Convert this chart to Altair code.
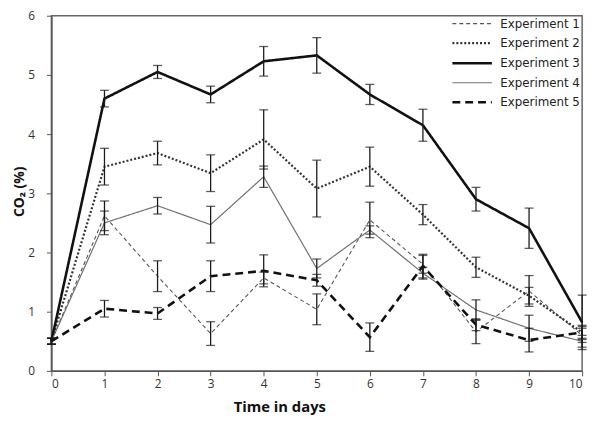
import altair as alt
import pandas as pd

days = list(range(11))
series_names = ["Experiment 1", "Experiment 2", "Experiment 3", "Experiment 4", "Experiment 5"]

exp1 = [0.5, 2.62, 1.6, 0.63, 1.57, 1.04, 2.55, 1.8, 0.66, 1.35, 0.6]
exp1_err = [0.05, 0.25, 0.26, 0.2, 0.1, 0.26, 0.3, 0.15, 0.2, 0.26, 0.12]
exp2 = [0.5, 3.45, 3.68, 3.34, 3.91, 3.08, 3.45, 2.64, 1.75, 1.27, 0.65]
exp2_err = [0.05, 0.31, 0.2, 0.31, 0.5, 0.48, 0.33, 0.17, 0.17, 0.14, 0.1]
exp3 = [0.5, 4.6, 5.05, 4.67, 5.23, 5.33, 4.67, 4.15, 2.9, 2.41, 0.82]
exp3_err = [0.05, 0.14, 0.11, 0.14, 0.25, 0.3, 0.17, 0.27, 0.2, 0.34, 0.46]
exp4 = [0.5, 2.5, 2.79, 2.47, 3.28, 1.73, 2.38, 1.65, 1.03, 0.72, 0.5]
exp4_err = [0.05, 0.2, 0.14, 0.31, 0.18, 0.16, 0.07, 0.1, 0.17, 0.22, 0.1]
exp5 = [0.5, 1.05, 0.97, 1.6, 1.69, 1.53, 0.57, 1.77, 0.78, 0.52, 0.65]
exp5_err = [0.05, 0.14, 0.1, 0.26, 0.27, 0.1, 0.24, 0.2, 0.1, 0.2, 0.12]

values = [exp1, exp2, exp3, exp4, exp5]
errors = [exp1_err, exp2_err, exp3_err, exp4_err, exp5_err]

rows = []
for name, vals, errs in zip(series_names, values, errors):
    for d, v, e in zip(days, vals, errs):
        rows.append({"day": d, "series": name, "co2": v, "lo": v - e, "hi": v + e})
df = pd.DataFrame(rows)

line_colors = ["#555555", "#333333", "#111111", "#707070", "#111111"]
line_dashes = [[4, 3], [2, 2], [1, 0], [1, 0], [8, 5]]
line_widths = [1.1, 2.2, 2.6, 1.2, 2.6]

x_enc = alt.X(
    "day:Q",
    scale=alt.Scale(domain=[0, 10], nice=False, zero=False),
    axis=alt.Axis(
        values=days, title="Time in days", grid=False, tickSize=5, format="d",
        labelFontSize=12, labelPadding=3, labelColor="#333333",
        domainColor="#555555", tickColor="#555555", domainWidth=1.5,
        titleFontSize=15, titleFontWeight="bold", titleFont="Open Sans",
        titleX=231, titlePadding=10, titleColor="#111111",
    ),
)
y_axis = alt.Axis(
    values=[0, 1, 2, 3, 4, 5, 6], title="CO₂ (%)", grid=False, tickSize=5, format="d",
    labelFontSize=12, labelPadding=12, labelColor="#333333",
    domainColor="#555555", tickColor="#555555", domainWidth=1.5,
    titleFontSize=14, titleFontWeight="bold", titleFont="Open Sans",
    titleX=-25, titleY=178, titleColor="#111111",
)
y_scale = alt.Scale(domain=[0, 6], nice=False)

legend = alt.Legend(
    title=None, orient="none", legendX=420, legendY=2,
    symbolType="M-4,0H4", symbolSize=100, labelFontSize=12,
    labelFont="DejaVu Sans", labelColor="#222222", labelOffset=22,
    rowPadding=7.3, padding=0,
)

lines = alt.Chart(df).mark_line().encode(
    x=x_enc,
    y=alt.Y("co2:Q", scale=y_scale, axis=y_axis),
    color=alt.Color("series:N", scale=alt.Scale(domain=series_names, range=line_colors), legend=legend),
    strokeDash=alt.StrokeDash("series:N", scale=alt.Scale(type="ordinal", domain=series_names, range=line_dashes), legend=legend),
    strokeWidth=alt.StrokeWidth("series:N", scale=alt.Scale(type="ordinal", domain=series_names, range=line_widths), legend=legend),
    detail="series:N",
)

bars = alt.Chart(df).mark_rule(color="#1a1a1a", strokeWidth=1.3).encode(
    x="day:Q",
    y=alt.Y("lo:Q", scale=y_scale),
    y2="hi:Q",
)

caps = alt.Chart(df).transform_fold(["lo", "hi"], as_=["end", "val"]).mark_tick(
    orient="horizontal", size=9, thickness=1.3, color="#1a1a1a"
).encode(
    x="day:Q",
    y=alt.Y("val:Q", scale=y_scale),
)

chart = alt.layer(lines, bars, caps).properties(
    width=538, height=360,
    autosize=alt.AutoSizeParams(type="none"),
    padding={"left": 44, "top": 5, "right": 10, "bottom": 50},
).configure(font="Open Sans").configure_view(
    stroke="#666666", strokeWidth=1.5
)

chart.save("out.html", embed_options={"renderer": "svg", "actions": False})
